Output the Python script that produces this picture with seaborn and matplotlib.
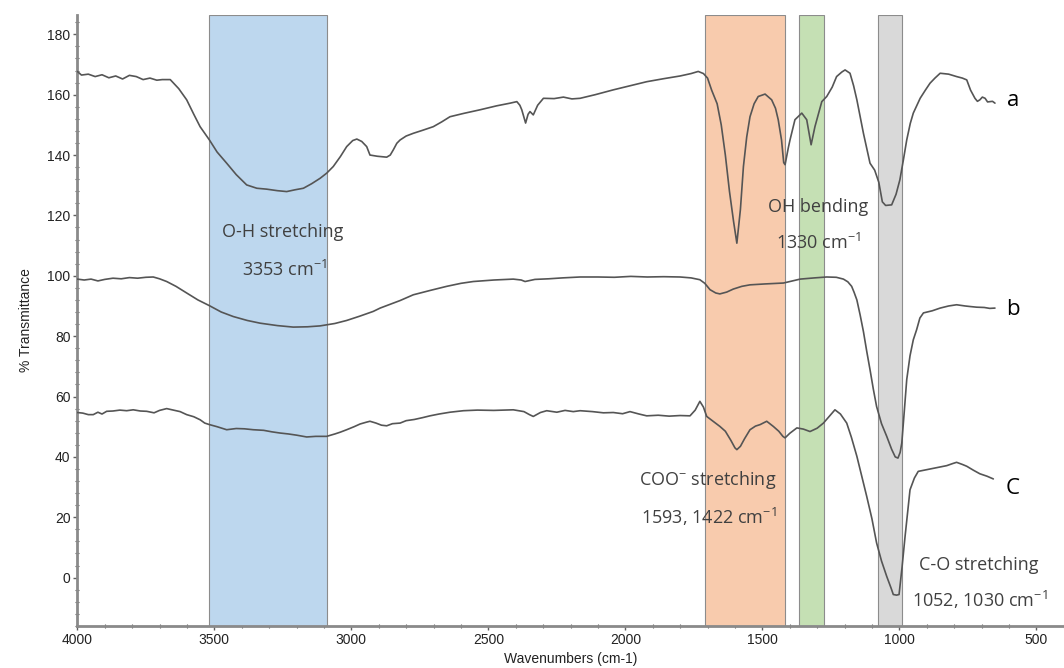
import matplotlib
matplotlib.use("Agg")
import matplotlib.pyplot as plt
import seaborn as sns
import pandas as pd
from matplotlib.ticker import MultipleLocator

# --- spectra (wavenumber cm-1, % transmittance) ---
wn_a = [4000, 3985, 3960, 3935, 3910, 3885, 3860, 3835, 3810, 3785, 3760, 3735, 3710, 3690, 3661,
        3630, 3601, 3575, 3552, 3518, 3490, 3455, 3420, 3382, 3345, 3309, 3270, 3236, 3205, 3175,
        3145, 3114, 3090, 3066, 3040, 3017, 2995, 2980, 2962, 2944, 2932, 2905, 2871, 2858, 2847,
        2834, 2822, 2800, 2774, 2740, 2701, 2670, 2640, 2590, 2530, 2470, 2420, 2396, 2385, 2378,
        2364, 2355, 2348, 2336, 2320, 2299, 2260, 2226, 2195, 2165, 2110, 2044, 1980, 1922, 1860,
        1800, 1760, 1734, 1715, 1700, 1685, 1665, 1650, 1635, 1620, 1605, 1593, 1580, 1569, 1557,
        1545, 1530, 1515, 1490, 1466, 1452, 1442, 1430, 1422, 1417, 1405, 1399, 1381, 1356, 1338,
        1330, 1322, 1308, 1283, 1265, 1245, 1229, 1210, 1198, 1180, 1167, 1155, 1131, 1107, 1090,
        1075, 1062, 1050, 1028, 1012, 998, 985, 973, 960, 949, 924, 905, 888, 870, 851,
        820, 791, 770, 754, 740, 724, 715, 706, 697, 687, 678, 669, 660, 651]
t_a = [167.7, 166.5, 166.8, 166.0, 166.6, 165.6, 166.2, 165.2, 166.4, 166.0, 165.0, 165.5, 164.8, 165.0, 165.0,
       162.0, 158.3, 153.5, 149.4, 145.0, 141.0, 137.3, 133.5, 130.1, 129.0, 128.7, 128.2, 127.9, 128.5, 129.0,
       130.5, 132.3, 134.0, 136.2, 139.5, 142.8, 144.8, 145.3, 144.5, 142.8, 140.0, 139.6, 139.3, 140.0, 141.7,
       143.9, 145.0, 146.3, 147.2, 148.2, 149.4, 151.0, 152.7, 153.8, 155.0, 156.3, 157.2, 157.7, 156.5, 155.0,
       150.6, 153.5, 154.4, 153.3, 156.5, 158.8, 158.7, 159.2, 158.6, 158.8, 160.0, 161.6, 163.0, 164.3, 165.3,
       166.2, 167.0, 167.7, 167.0, 165.5, 161.5, 157.0, 150.0, 140.0, 128.0, 118.0, 110.8, 122.0, 136.2, 146.0,
       152.7, 157.0, 159.4, 160.2, 158.3, 155.5, 151.7, 145.0, 137.5, 136.8, 142.5, 145.0, 151.7, 153.9, 151.7,
       147.5, 143.4, 149.4, 157.7, 159.4, 162.5, 166.0, 167.5, 168.2, 167.1, 163.0, 158.3, 147.2, 137.3, 135.0,
       131.0, 124.5, 123.3, 123.5, 127.0, 131.8, 138.5, 145.0, 150.5, 153.9, 158.8, 161.5, 163.8, 165.5, 167.1,
       166.8, 166.0, 165.5, 164.9, 161.5, 158.8, 157.8, 158.3, 159.2, 158.8, 157.6, 157.7, 157.8, 157.2]

wn_b = [4000, 3975, 3950, 3925, 3900, 3870, 3840, 3810, 3780, 3750, 3723, 3700, 3674, 3640, 3601,
        3560, 3518, 3475, 3431, 3380, 3333, 3270, 3212, 3160, 3114, 3060, 3017, 2970, 2920, 2895,
        2860, 2822, 2774, 2710, 2652, 2600, 2555, 2480, 2409, 2380, 2366, 2330, 2280, 2230, 2165,
        2100, 2040, 1980, 1920, 1860, 1800, 1760, 1728, 1710, 1691, 1670, 1655, 1630, 1606, 1575,
        1545, 1490, 1423, 1390, 1362, 1310, 1265, 1230, 1204, 1188, 1174, 1165, 1155, 1143, 1131,
        1119, 1107, 1095, 1083, 1065, 1046, 1028, 1015, 1005, 997, 991, 982, 973, 961, 949,
        937, 925, 912, 880, 851, 820, 791, 760, 740, 718, 690, 670, 651]
t_b = [98.9, 98.6, 98.9, 98.3, 98.8, 99.2, 99.0, 99.4, 99.2, 99.5, 99.6, 99.0, 98.1, 96.5, 94.3,
       92.0, 90.1, 88.0, 86.5, 85.2, 84.3, 83.5, 83.0, 83.1, 83.4, 84.2, 85.2, 86.6, 88.2, 89.3,
       90.5, 91.8, 93.7, 95.2, 96.5, 97.5, 98.1, 98.6, 98.9, 98.6, 98.1, 98.8, 99.0, 99.3, 99.6,
       99.6, 99.5, 99.8, 99.6, 99.7, 99.6, 99.3, 98.7, 97.5, 95.4, 94.3, 94.0, 94.6, 95.6, 96.5,
       97.0, 97.3, 97.6, 98.3, 98.9, 99.3, 99.6, 99.5, 98.9, 98.0, 96.5, 94.5, 92.0, 87.0, 81.5,
       75.0, 68.9, 62.5, 56.7, 51.0, 46.8, 42.5, 40.0, 39.6, 41.5, 44.6, 55.0, 65.6, 73.5, 78.8,
       82.1, 86.0, 87.7, 88.4, 89.3, 90.0, 90.4, 90.0, 89.8, 89.6, 89.5, 89.2, 89.3]

wn_c = [4000, 3980, 3960, 3942, 3925, 3910, 3893, 3870, 3845, 3820, 3796, 3770, 3747, 3720, 3700,
        3674, 3650, 3625, 3601, 3575, 3552, 3535, 3518, 3490, 3455, 3420, 3390, 3358, 3320, 3290,
        3260, 3230, 3200, 3163, 3130, 3090, 3060, 3040, 3017, 2990, 2968, 2945, 2932, 2910, 2890,
        2871, 2850, 2822, 2800, 2770, 2740, 2713, 2680, 2640, 2591, 2540, 2480, 2409, 2370, 2350,
        2336, 2310, 2287, 2250, 2220, 2190, 2165, 2120, 2080, 2044, 2010, 1983, 1950, 1922, 1880,
        1840, 1800, 1764, 1745, 1728, 1715, 1703, 1680, 1655, 1635, 1615, 1600, 1593, 1580, 1565,
        1545, 1525, 1508, 1484, 1460, 1440, 1425, 1417, 1400, 1374, 1350, 1326, 1300, 1277, 1255,
        1235, 1215, 1192, 1175, 1155, 1137, 1119, 1100, 1083, 1065, 1046, 1030, 1022, 1010, 1001,
        990, 979, 970, 961, 945, 931, 910, 888, 860, 827, 805, 791, 770, 754, 730,
        706, 680, 657]
t_c = [54.7, 54.5, 54.0, 54.0, 54.8, 54.2, 55.1, 55.2, 55.5, 55.3, 55.6, 55.2, 55.1, 54.6, 55.4,
       56.0, 55.5, 55.0, 54.0, 53.3, 52.3, 51.2, 50.7, 50.0, 49.0, 49.4, 49.3, 49.0, 48.8, 48.3,
       47.9, 47.6, 47.2, 46.6, 46.8, 46.8, 47.6, 48.2, 49.0, 50.0, 50.9, 51.5, 51.8, 51.2, 50.5,
       50.3, 51.0, 51.2, 52.0, 52.4, 53.0, 53.6, 54.2, 54.8, 55.3, 55.5, 55.4, 55.6, 55.0, 54.0,
       53.4, 54.7, 55.3, 54.8, 55.4, 55.0, 55.3, 55.0, 54.6, 54.7, 54.3, 55.0, 54.2, 53.6, 53.8,
       53.5, 53.7, 53.6, 55.5, 58.4, 56.5, 53.4, 51.8, 50.1, 48.5, 45.5, 43.0, 42.4, 43.5, 46.0,
       49.0, 50.2, 50.7, 51.8, 50.1, 48.5, 46.8, 46.3, 47.8, 49.6, 49.2, 48.4, 49.5, 51.2, 53.5,
       55.6, 54.2, 51.2, 46.5, 40.2, 33.5, 26.9, 19.5, 11.5, 5.5, 0.4, -3.5, -5.6, -5.8, -5.6,
       3.5, 13.7, 21.5, 29.1, 33.0, 35.2, 35.6, 36.0, 36.5, 37.1, 37.8, 38.2, 37.5, 36.9, 35.6,
       34.4, 33.6, 32.7]

# highlighted regions: (high wn, low wn, colour)
band_hi = [3518, 1709, 1365, 1077]
band_lo = [3088, 1417, 1274, 989]
band_colors = ['#bdd7ee', '#f8cbad', '#c5e0b4', '#d9d9d9']

sns.set_theme(style='white')
plt.rcParams['font.family'] = ['Liberation Sans', 'DejaVu Sans']
plt.rcParams['mathtext.default'] = 'regular'

fig = plt.figure(figsize=(10.64, 6.68), dpi=100)
ax = fig.add_axes([0.0727, 0.063, 0.9273, 0.915])

for hi, lo, col in zip(band_hi, band_lo, band_colors):
    ax.axvspan(hi, lo, facecolor=col, edgecolor='#8c8c8c', linewidth=0.8, zorder=1)

df = pd.concat([
    pd.DataFrame({'wn': wn_a, 'T': t_a, 'sample': 'a'}),
    pd.DataFrame({'wn': wn_b, 'T': t_b, 'sample': 'b'}),
    pd.DataFrame({'wn': wn_c, 'T': t_c, 'sample': 'c'}),
])
sns.lineplot(data=df, x='wn', y='T', units='sample', estimator=None,
             color='#555555', linewidth=1.2, ax=ax, zorder=3)

ax.set_xlim(4000, 399)
ax.set_ylim(-16, 186.5)
ax.xaxis.set_major_locator(MultipleLocator(500))
ax.xaxis.set_minor_locator(MultipleLocator(100))
ax.yaxis.set_major_locator(MultipleLocator(20))
ax.yaxis.set_minor_locator(MultipleLocator(4))
ax.set_yticks(range(0, 181, 20))
ax.tick_params(axis='both', which='major', direction='out', length=3, width=1,
               color='#606060', labelsize=10, labelcolor='#222222', pad=2, bottom=True, left=True)
ax.tick_params(axis='both', which='minor', direction='inout', length=3, width=0.8,
               color='#606060', bottom=True, left=True)
for s in ['top', 'right']:
    ax.spines[s].set_visible(False)
for s in ['left', 'bottom']:
    ax.spines[s].set_color('#8a8a8a')
    ax.spines[s].set_linewidth(2)

ax.set_xlabel('Wavenumbers (cm-1)', fontsize=10, color='#222222', labelpad=4)
ax.set_ylabel('% Transmittance', fontsize=10, color='#222222', labelpad=10)

note = dict(fontsize=13, color='#404040', ha='center', va='center',
            family=['Open Sans', 'DejaVu Sans'], zorder=4)
ax.text(3249, 114.6, 'O-H stretching', **note)
ax.text(3245, 102, '3353 cm$^{-1}$', **note)
ax.text(1297, 122.8, 'OH bending', **note)
ax.text(1295, 111, '1330 cm$^{-1}$', **note)
ax.text(1698, 32.5, 'COO$^{-}$ stretching', **note)
ax.text(1695, 20.2, '1593, 1422 cm$^{-1}$', **note)
ax.text(709, 4.3, 'C-O stretching', **note)
ax.text(706, -7.3, '1052, 1030 cm$^{-1}$', **note)

lab = dict(fontsize=16, color='black', ha='center', va='center',
           family=['Open Sans', 'DejaVu Sans'], zorder=4)
ax.text(585, 158, 'a', **lab)
ax.text(585, 88.7, 'b', **lab)
ax.text(585, 29.5, 'C', **lab)

fig.savefig('out.png', dpi=100)
